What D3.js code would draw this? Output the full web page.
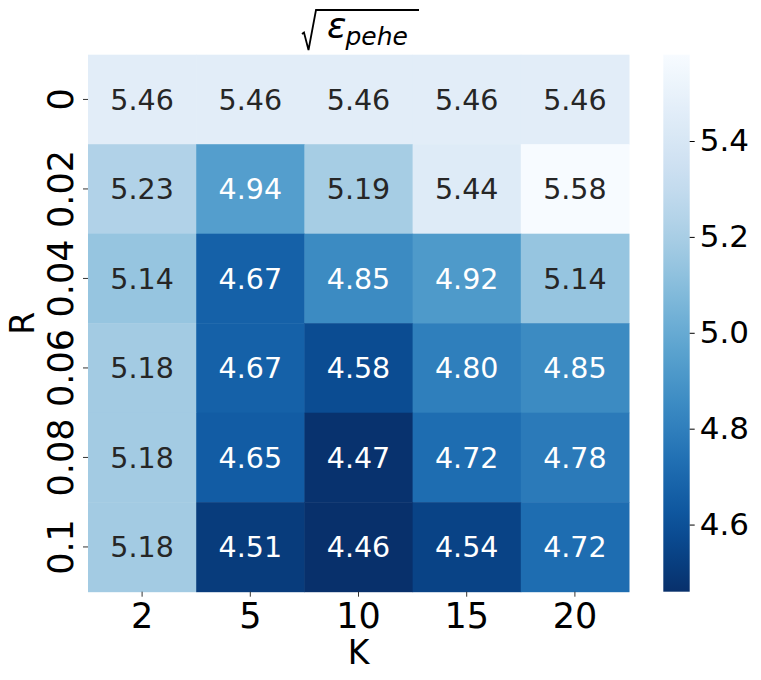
<!DOCTYPE html>
<html>
<head>
<meta charset="utf-8">
<script src="https://cdn.jsdelivr.net/npm/d3@7"></script>
<style>
  body { margin: 0; background: #fff; }
  svg text { font-family: "DejaVu Sans", sans-serif; }
</style>
</head>
<body>
<svg id="chart" width="761" height="680"></svg>
<script>
// K along the x axis, R down the y axis
const kLabels = ['2', '5', '10', '15', '20'];
const rLabels = ['0', '0.02', '0.04', '0.06', '0.08', '0.1'];

// one array per R row
const row0 = [5.46, 5.46, 5.46, 5.46, 5.46];
const row002 = [5.23, 4.94, 5.19, 5.44, 5.58];
const row004 = [5.14, 4.67, 4.85, 4.92, 5.14];
const row006 = [5.18, 4.67, 4.58, 4.80, 4.85];
const row008 = [5.18, 4.65, 4.47, 4.72, 4.78];
const row01 = [5.18, 4.51, 4.46, 4.54, 4.72];
const rows = [row0, row002, row004, row006, row008, row01];

const colorbarTicks = [4.6, 4.8, 5.0, 5.2, 5.4];

const svg = d3.select('#chart');

const margin = { top: 54.7, left: 88, right: 629, bottom: 591.7 };

const cells = rows.flatMap((vals, i) =>
    vals.map((v, j) => ({ r: rLabels[i], k: kLabels[j], value: v })));

const xScale = d3.scaleBand().domain(kLabels).range([margin.left, margin.right]);
const yScale = d3.scaleBand().domain(rLabels).range([margin.top, margin.bottom]);

const [vmin, vmax] = d3.extent(cells, d => d.value);
// Blues reversed: low values dark
const color = d3.scaleSequential(t => d3.interpolateBlues(1 - t)).domain([vmin, vmax]);

// pick annotation colour like seaborn does (relative luminance)
function luminance(c) {
    const rgb = d3.rgb(c);
    const f = (x) => {
        x = x / 255;
        return x <= 0.03928 ? x / 12.92 : Math.pow((x + 0.055) / 1.055, 2.4);
    };
    return 0.2126 * f(rgb.r) + 0.7152 * f(rgb.g) + 0.0722 * f(rgb.b);
}

// cells
svg.append('g')
    .selectAll('rect')
    .data(cells)
    .join('rect')
    .attr('x', d => xScale(d.k))
    .attr('y', d => yScale(d.r))
    .attr('width', xScale.bandwidth() + 0.5)
    .attr('height', yScale.bandwidth() + 0.5)
    .attr('fill', d => color(d.value));

// annotations
svg.append('g')
    .selectAll('text')
    .data(cells)
    .join('text')
    .attr('x', d => xScale(d.k) + xScale.bandwidth() / 2)
    .attr('y', d => yScale(d.r) + yScale.bandwidth() / 2)
    .attr('dy', '0.36em')
    .attr('text-anchor', 'middle')
    .style('font-size', '28.5px')
    .attr('fill', d => luminance(color(d.value)) > 0.408 ? '#262626' : '#ffffff')
    .text(d => d3.format('.2f')(d.value));

// x axis
const xAxis = svg.append('g')
    .attr('transform', `translate(0, ${margin.bottom})`)
    .call(d3.axisBottom(xScale).tickSize(5).tickPadding(6));
xAxis.select('.domain').remove();
xAxis.selectAll('text').style('font-size', '35px').attr('fill', '#000');
xAxis.selectAll('line').attr('stroke', '#333');

// y axis, labels rotated
const yAxis = svg.append('g')
    .attr('transform', `translate(${margin.left}, 0)`)
    .call(d3.axisLeft(yScale).tickSize(5));
yAxis.select('.domain').remove();
yAxis.selectAll('line').attr('stroke', '#333');
yAxis.selectAll('text')
    .style('font-size', '35px')
    .attr('fill', '#000')
    .attr('x', null)
    .attr('dy', null)
    .attr('text-anchor', 'middle')
    .attr('transform', 'translate(-15, 0) rotate(-90)');

// axis titles
svg.append('text')
    .attr('x', (margin.left + margin.right) / 2)
    .attr('y', 664)
    .attr('text-anchor', 'middle')
    .style('font-size', '33px')
    .text('K');

svg.append('text')
    .attr('transform', `translate(34, ${(margin.top + margin.bottom) / 2}) rotate(-90)`)
    .attr('text-anchor', 'middle')
    .style('font-size', '33px')
    .text('R');

// title: sqrt(epsilon_pehe)
const title = svg.append('g');
title.append('path')
    .attr('d', 'M302,34 L304,32.5 L308.5,50 L316,10 L419,10')
    .attr('fill', 'none')
    .attr('stroke', '#000')
    .attr('stroke-width', 1.8)
    .attr('stroke-linejoin', 'miter');
const tt = title.append('text')
    .attr('x', 327)
    .attr('y', 38)
    .style('font-style', 'italic');
tt.append('tspan').style('font-size', '36px').text('ε');
tt.append('tspan').style('font-size', '25px').attr('dy', 7).attr('dx', -1).text('pehe');

// colorbar
const cbX = 663.3, cbW = 26.4;
const cbScale = d3.scaleLinear().domain([vmin, vmax]).range([margin.bottom, margin.top]);

const grad = svg.append('defs').append('linearGradient')
    .attr('id', 'cbgrad')
    .attr('x1', 0).attr('y1', 1).attr('x2', 0).attr('y2', 0);
grad.selectAll('stop')
    .data(d3.range(0, 1.0001, 0.05))
    .join('stop')
    .attr('offset', d => d)
    .attr('stop-color', d => color(vmin + d * (vmax - vmin)));

svg.append('rect')
    .attr('x', cbX)
    .attr('y', margin.top)
    .attr('width', cbW)
    .attr('height', margin.bottom - margin.top)
    .attr('fill', 'url(#cbgrad)');

const cbAxis = svg.append('g')
    .attr('transform', `translate(${cbX + cbW}, 0)`)
    .call(d3.axisRight(cbScale).tickValues(colorbarTicks).tickFormat(d3.format('.1f')).tickSize(5).tickPadding(5));
cbAxis.select('.domain').remove();
cbAxis.selectAll('line').attr('stroke', '#000');
cbAxis.selectAll('text').style('font-size', '31px').attr('fill', '#000');
</script>
</body>
</html>
